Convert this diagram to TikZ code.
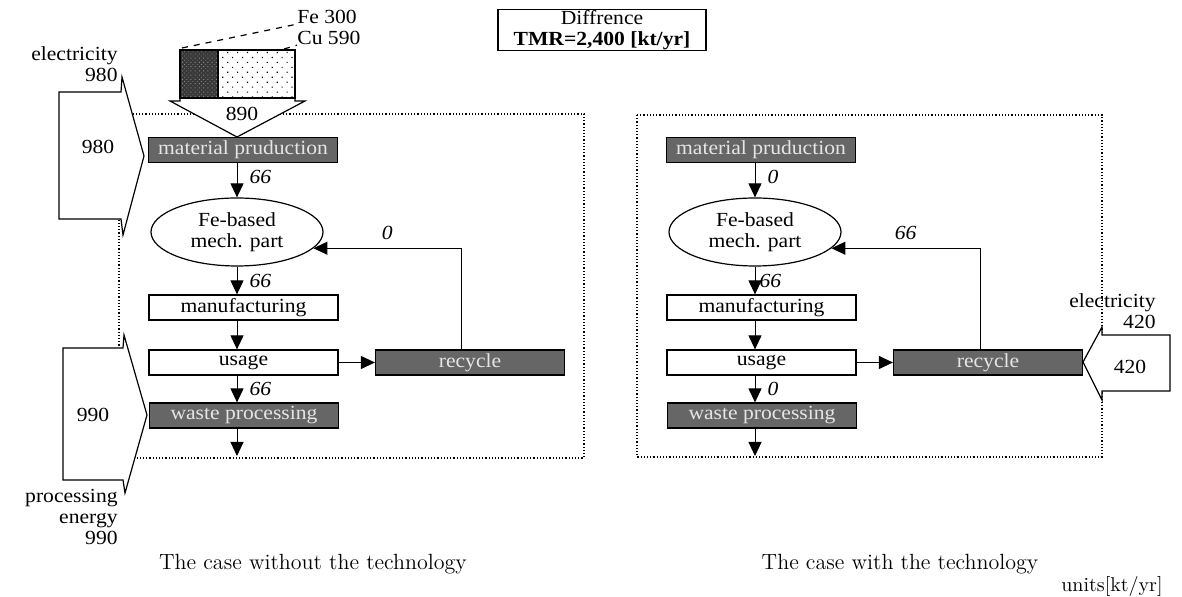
\documentclass[tikz,border=0pt]{standalone}
\usepackage{fontspec}
\newfontfamily\tf{Liberation Serif}[FakeStretch=1.08]
\usetikzlibrary{arrows.meta,shapes.geometric,patterns.meta,calc}

\begin{document}
\begin{tikzpicture}[x=0.5pt,y=-0.5pt,
  every node/.style={font=\tf\fontsize{10}{10.5}\selectfont, inner sep=0pt},
  panel/.style={densely dotted, line width=0.6pt},
  box/.style={draw, line width=0.6pt, minimum width=94.5pt, minimum height=12.5pt, fill=white},
  darkbox/.style={box, fill=black!60, text=white!90!black},
  part/.style={draw, ellipse, line width=0.6pt, minimum width=86pt, minimum height=34pt, align=center},
  flow/.style={-{Triangle[length=7pt,width=6.5pt]}, line width=0.5pt},
  qty/.style={font=\tf\itshape\fontsize{10}{10.5}\selectfont},
  bigarrow/.style={draw, fill=white, line width=0.6pt, line join=miter},
  side/.style={align=right, anchor=north east},
  caption/.style={font=\rmfamily\fontsize{11}{13}\selectfont}
]
\useasboundingbox (0,0) rectangle (1182,597);

% dotted frames of the two cases
\draw[panel] (119,114) rectangle (584,458);
\draw[panel] (637,115) rectangle (1102,457);

% energy inputs
\draw[bigarrow] (59,92) -- (121,92) -- (122,77) -- (144,156) -- (123,235) -- (121,219) -- (59,219) -- cycle;
\draw[bigarrow] (63,348) -- (123,348) -- (124,335) -- (147,415) -- (125,493) -- (123,480) -- (63,480) -- cycle;
\draw[bigarrow] (1170,335) -- (1102,335) -- (1102,327) -- (1083,362) -- (1102,400) -- (1102,391) -- (1170,391) -- cycle;

\node[side] (elecA) at (118,46) {electricity\\980};
\node (inA) at (98,147) {980};
\node (inP) at (93,415) {990};
\node[side] (procA) at (118,489) {processing\\energy\\990};
\node[side] (elecB) at (1156,293) {electricity\\420};
\node (inB) at (1130,367) {420};

% raw material input (Fe + Cu)
\draw[bigarrow] (180,50) -- (180,101) -- (170,101) -- (237,137) -- (305,101) -- (295,101) -- (295,50) -- cycle;
\fill[black!78] (180,50) rectangle (218,98);
\fill[pattern={Dots[distance=1.5pt,radius=0.3pt,angle=45]}, pattern color=black!45] (180,50) rectangle (218,98);
\fill[pattern={Dots[distance=3.5pt,radius=0.4pt,angle=45]}] (218,50) rectangle (295,98);
\draw[line width=0.6pt] (180,50) rectangle (295,98) (218,50) -- (218,98);
\draw[line width=1.2pt] (180,50) -- (295,50);
\node (sum) at (242,114) {890};
\node[anchor=west] (fe) at (297,17) {Fe 300};
\node[anchor=west] (cu) at (297,38) {Cu 590};
\draw[dashed, line width=0.6pt] (182,48) -- (fe.south west);
\draw[dashed, line width=0.6pt] (284,49) -- (cu.south west);

% difference
\node[draw, line width=0.7pt, minimum width=104pt, minimum height=20.5pt, align=center] (diff) at (602,30)
  {Diffrence\\\textbf{TMR=2,400 [kt/yr]}};

% case without the technology
\node[darkbox] (mpA) at (243,150) {material pruduction};
\node[part] (elA) at (237,232) {Fe-based\\mech. part};
\node[box] (mfA) at (243.5,307.5) {manufacturing};
\node[box] (usA) at (243.5,362.5) {usage};
\node[darkbox] (wpA) at (244,415.5) {waste processing};
\node[darkbox] (rcA) at (470,362.5) {recycle};
\coordinate (endA) at (237,456);

\draw[flow] (elA |- mpA.south) -- (elA.north) node[qty, pos=0.4, right=6pt] {66};
\draw[flow] (elA.south) -- (elA |- mfA.north) node[qty, midway, right=6pt] {66};
\draw[flow] (elA |- mfA.south) -- (elA |- usA.north);
\draw[flow] (elA |- usA.south) -- (elA |- wpA.north) node[qty, midway, right=6pt] {66};
\draw[flow] (elA |- wpA.south) -- (endA);
\draw[flow] (usA.east) -- (rcA.west);
\draw[flow] ([xshift=-4.5pt]rcA.north) |- (elA.-12) node[qty, pos=0.75, above=4pt] {0};

% case with the technology
\node[darkbox] (mpB) at (761,150) {material pruduction};
\node[part] (elB) at (755,232) {Fe-based\\mech. part};
\node[box] (mfB) at (761.5,307.5) {manufacturing};
\node[box] (usB) at (761.5,362.5) {usage};
\node[darkbox] (wpB) at (762,415.5) {waste processing};
\node[darkbox] (rcB) at (988,362.5) {recycle};
\coordinate (endB) at (755,456);

\draw[flow] (elB |- mpB.south) -- (elB.north) node[qty, pos=0.4, right=6pt] {0};
\draw[flow] (elB.south) -- (elB |- mfB.north) node[qty, midway, right=2pt] {66};
\draw[flow] (elB |- mfB.south) -- (elB |- usB.north);
\draw[flow] (elB |- usB.south) -- (elB |- wpB.north) node[qty, midway, right=6pt] {0};
\draw[flow] (elB |- wpB.south) -- (endB);
\draw[flow] (usB.east) -- (rcB.west);
\draw[flow] ([xshift=-4pt]rcB.north) |- (elB.-12) node[qty, pos=0.75, above=4pt] {66};

% captions
\node[caption] (capA) at (313,564) {The case without the technology};
\node[caption] (capB) at (900,564) {The case with the technology};
\node[caption, anchor=east, font=\rmfamily\fontsize{10}{12}\selectfont] (units) at (1163,587) {units[kt/yr]};
\end{tikzpicture}
\end{document}
